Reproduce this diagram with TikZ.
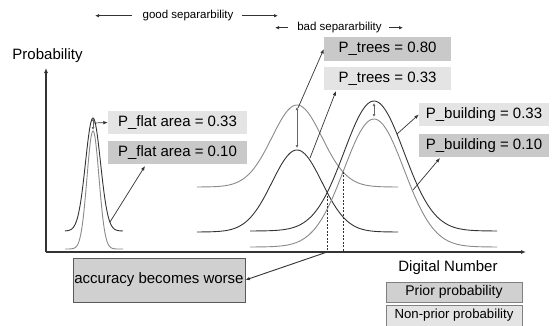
\documentclass[tikz,border=0pt]{standalone}
\usepackage{fontspec}
\setmainfont{Liberation Sans}
\usetikzlibrary{arrows.meta,intersections,calc}
\definecolor{boxlight}{HTML}{E4E4E4}
\definecolor{boxdark}{HTML}{C9C9C9}
\definecolor{accfill}{HTML}{D0D0D0}
\definecolor{curvedark}{HTML}{333333}
\definecolor{curvelight}{HTML}{8A8A8A}
\definecolor{inkc}{HTML}{333333}
\begin{document}
\begin{tikzpicture}[x=1pt,y=-1pt,
  lbl/.style={font=\fontsize{15}{18}\selectfont, inner sep=0pt},
  smalllbl/.style={font=\fontsize{11.5}{14}\selectfont, inner sep=0pt},
  boxL/.style={rectangle, fill=boxlight, inner sep=0pt, font=\fontsize{15}{18}\selectfont},
  boxD/.style={rectangle, fill=boxdark, inner sep=0pt, font=\fontsize{15}{18}\selectfont},
  darkc/.style={curvedark, line width=0.9pt},
  lightc/.style={curvelight, line width=0.9pt},
  ptr/.style={-{Latex[length=4.5pt,width=3.5pt]}, line width=0.7pt, inkc},
  dbl/.style={{Latex[length=3pt,width=3pt]}-{Latex[length=3pt,width=3pt]}, line width=0.6pt, black!60},
  axisline/.style={-{Latex[length=5pt,width=4pt]}, line width=1.1pt, inkc},
  sepline/.style={-{Latex[length=4pt,width=3.5pt]}, line width=0.8pt, inkc},
  dashv/.style={dashed, line width=0.6pt, black!80, dash pattern=on 2pt off 1.5pt}
]
\useasboundingbox (0,0) rectangle (554,325);
\fill[white] (0,0) rectangle (554,325);

% axes
\coordinate (o) at (46,252);
\coordinate (ytop) at (46,68);
\coordinate (xend) at (526,252);
\draw[axisline] (o) -- (ytop);
\draw[axisline] (o) -- (xend);
\node[lbl] (ylab) at (47.5,56) {Probability};
\node[lbl] (xlab) at (448,268) {Digital Number};

% separability labels
\node[smalllbl] (good) at (188,15.7) {good separarbility};
\coordinate (g1) at (95,15.7);
\coordinate (g2) at (278,15.7);
\draw[sepline] ($(good.west)+(-10,0)$) -- (g1);
\draw[sepline] ($(good.east)+(8,0)$) -- (g2);
\node[smalllbl] (bad) at (339.5,27.7) {bad separarbility};
\coordinate (b1) at (275,27.7);
\coordinate (b2) at (403,27.7);
\draw[sepline] ($(bad.west)+(-9,0)$) -- (b1);
\draw[sepline] ($(bad.east)+(7,0)$) -- (b2);

% curves: flat area
\draw[darkc, name path=fD] plot[domain=65:123, samples=90, smooth] (\x,{231-113*exp(-((\x-93)/7.5)^2/2)});
\draw[lightc, name path=fL] plot[domain=65:123, samples=90, smooth] (\x,{249-118*exp(-((\x-93)/6)^2/2)});
% trees
\draw[lightc, name path=tL] plot[domain=197:398, samples=120, smooth] (\x,{187-82*exp(-((\x-297)/25)^2/2)});
\draw[darkc, name path=tD] plot[domain=197:398, samples=120, smooth] (\x,{232-82*exp(-((\x-297)/25)^2/2)});
% building
\draw[darkc, name path=bD] plot[domain=250:497, samples=120, smooth] (\x,{231-130*exp(-((\x-374)/30)^2/2)});
\draw[lightc, name path=bL] plot[domain=250:497, samples=120, smooth] (\x,{247-128*exp(-((\x-374)/30)^2/2)});

% decision boundaries
\path[name intersections={of=tD and bD, by=iD}];
\path[name intersections={of=tL and bL, by=iL}];
\coordinate (iDx) at (iD |- o);
\coordinate (iLx) at (iL |- o);
\draw[dashv] (iD) -- (iDx);
\draw[dashv] (iL) -- (iLx);

% difference arrows
\coordinate (fa1) at (93,118);
\coordinate (fa2) at (93,130);
\draw[dbl] (fa1) -- (fa2);
\coordinate (ta1) at (297,107);
\coordinate (ta2) at (297,148);
\draw[dbl] (ta1) -- (ta2);
\coordinate (ba1) at (374,103);
\coordinate (ba2) at (374,117);
\draw[dbl] (ba1) -- (ba2);

% probability boxes
\node[boxD, minimum width=127pt, minimum height=24pt] (pt80) at (387.5,49) {P\_trees = 0.80};
\node[boxL, minimum width=127pt, minimum height=23pt] (pt33) at (387.5,78.5) {P\_trees = 0.33};
\node[boxL, minimum width=130pt, minimum height=23pt] (pb33) at (484,114.5) {P\_building = 0.33};
\node[boxD, minimum width=130pt, minimum height=23pt] (pb10) at (484,145.5) {P\_building = 0.10};
\node[boxL, minimum width=139pt, minimum height=23pt] (pf33) at (177.5,122.5) {P\_flat area = 0.33};
\node[boxD, minimum width=139pt, minimum height=23pt] (pf10) at (177.5,152.5) {P\_flat area = 0.10};

% pointers
\coordinate (s80) at (298,108);
\draw[ptr] (s80) -- (pt80.west);
\coordinate (s33) at (310,158);
\coordinate (e33) at (336,91);
\draw[ptr] (s33) -- (e33);
\coordinate (sb33) at (397,134);
\draw[ptr] (sb33) -- (pb33.west);
\coordinate (sb10) at (413,190);
\coordinate (eb10) at (440,158);
\draw[ptr] (sb10) -- (eb10);
\coordinate (sf33) at (94,123);
\draw[ptr] (sf33) -- (pf33.west);
\coordinate (sf10) at (110,222);
\coordinate (ef10) at (145,166);
\draw[ptr] (sf10) -- (ef10);

% accuracy box
\node[rectangle, fill=accfill, draw=black!65, line width=0.8pt, minimum width=172pt, minimum height=44pt, inner sep=0pt, font=\fontsize{15}{18}\selectfont] (acc) at (159,280) {accuracy becomes worse};
\draw[ptr, line width=0.9pt] (iDx) -- (acc.east);

% legend
\node[rectangle, fill=accfill, draw=black!50, line width=0.7pt, minimum width=136pt, minimum height=20pt, inner sep=0pt, font=\fontsize{14}{16}\selectfont] (prior) at (454,292) {Prior probability};
\node[rectangle, fill=boxlight, draw=black!50, line width=0.7pt, minimum width=136pt, minimum height=21pt, inner sep=0pt, font=\fontsize{13.2}{16}\selectfont] (nonprior) at (454,315.5) {Non-prior probability};
\end{tikzpicture}
\end{document}
